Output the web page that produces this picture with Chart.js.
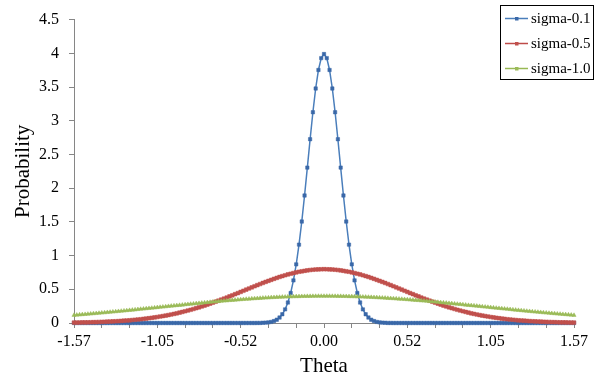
<!DOCTYPE html>
<html>
<head>
<meta charset="utf-8">
<script src="https://cdn.jsdelivr.net/npm/chart.js@4.4.1/dist/chart.umd.min.js"></script>
<style>
  body { margin: 0; background: #fff; }
  #wrap { width: 604px; height: 379px; }
</style>
</head>
<body>
<div id="wrap"><canvas id="myChart" width="604" height="379"></canvas></div>
<script>
'use strict';

// theta in degrees, one point per degree (-90 .. 90)
let thetaDeg = [
  -90, -89, -88, -87, -86, -85, -84, -83, -82, -81,
  -80, -79, -78, -77, -76, -75, -74, -73, -72, -71,
  -70, -69, -68, -67, -66, -65, -64, -63, -62, -61,
  -60, -59, -58, -57, -56, -55, -54, -53, -52, -51,
  -50, -49, -48, -47, -46, -45, -44, -43, -42, -41,
  -40, -39, -38, -37, -36, -35, -34, -33, -32, -31,
  -30, -29, -28, -27, -26, -25, -24, -23, -22, -21,
  -20, -19, -18, -17, -16, -15, -14, -13, -12, -11,
  -10, -9, -8, -7, -6, -5, -4, -3, -2, -1,
  0,
  1, 2, 3, 4, 5, 6, 7, 8, 9, 10,
  11, 12, 13, 14, 15, 16, 17, 18, 19, 20,
  21, 22, 23, 24, 25, 26, 27, 28, 29, 30,
  31, 32, 33, 34, 35, 36, 37, 38, 39, 40,
  41, 42, 43, 44, 45, 46, 47, 48, 49, 50,
  51, 52, 53, 54, 55, 56, 57, 58, 59, 60,
  61, 62, 63, 64, 65, 66, 67, 68, 69, 70,
  71, 72, 73, 74, 75, 76, 77, 78, 79, 80,
  81, 82, 83, 84, 85, 86, 87, 88, 89, 90
];

// shown under every 30th category
let tickLabels = ['-1.57', '-1.05', '-0.52', '0.00', '0.52', '1.05', '1.57'];

let seriesNames = ['sigma-0.1', 'sigma-0.5', 'sigma-1.0'];

let sigma01 = [
  0, 0, 0, 0, 0, 0, 0, 0, 0, 0, 0,
  0, 0, 0, 0, 0, 0, 0, 0, 0, 0, 0,
  0, 0, 0, 0, 0, 0, 0, 0, 0, 0, 0,
  0, 0, 0, 0, 0, 0, 0, 0, 0, 0, 0,
  0, 0, 0, 0, 0, 0, 0, 0, 0, 0, 0,
  0, 0, 0, 0, 0, 0, 0, 0, 0, 0, 0,
  0.001, 0.001, 0.003, 0.005, 0.009, 0.016, 0.029, 0.049, 0.081, 0.130,
  0.202, 0.304, 0.445, 0.632, 0.870, 1.162, 1.505, 1.891, 2.305, 2.726,
  3.126, 3.478, 3.753, 3.929,
  3.989,
  3.929, 3.753, 3.478, 3.126,
  2.726, 2.305, 1.891, 1.505, 1.162, 0.870, 0.632, 0.445, 0.304, 0.202,
  0.130, 0.081, 0.049, 0.029, 0.016, 0.009, 0.005, 0.003, 0.001, 0.001,
  0, 0, 0, 0, 0, 0, 0, 0, 0, 0, 0,
  0, 0, 0, 0, 0, 0, 0, 0, 0, 0, 0,
  0, 0, 0, 0, 0, 0, 0, 0, 0, 0, 0,
  0, 0, 0, 0, 0, 0, 0, 0, 0, 0, 0,
  0, 0, 0, 0, 0, 0, 0, 0, 0, 0, 0,
  0, 0, 0, 0, 0, 0, 0, 0, 0, 0, 0
];

let sigma05 = [
  0.006, 0.006, 0.007, 0.008, 0.009, 0.010, 0.011, 0.012, 0.013, 0.015,
  0.016, 0.018, 0.020, 0.022, 0.024, 0.026, 0.028, 0.031, 0.034, 0.037,
  0.040, 0.044, 0.048, 0.052, 0.056, 0.061, 0.066, 0.071, 0.077, 0.083,
  0.089, 0.096, 0.103, 0.110, 0.118, 0.126, 0.135, 0.144, 0.154, 0.164,
  0.174, 0.185, 0.196, 0.208, 0.220, 0.232, 0.245, 0.259, 0.273, 0.287,
  0.301, 0.316, 0.331, 0.347, 0.362, 0.378, 0.395, 0.411, 0.428, 0.444,
  0.461, 0.478, 0.495, 0.512, 0.529, 0.545, 0.562, 0.578, 0.594, 0.610,
  0.625, 0.640, 0.655, 0.669, 0.683, 0.696, 0.708, 0.720, 0.731, 0.741,
  0.751, 0.760, 0.767, 0.774, 0.781, 0.786, 0.790, 0.794, 0.796, 0.797,
  0.798,
  0.797, 0.796, 0.794, 0.790, 0.786, 0.781, 0.774, 0.767, 0.760, 0.751,
  0.741, 0.731, 0.720, 0.708, 0.696, 0.683, 0.669, 0.655, 0.640, 0.625,
  0.610, 0.594, 0.578, 0.562, 0.545, 0.529, 0.512, 0.495, 0.478, 0.461,
  0.444, 0.428, 0.411, 0.395, 0.378, 0.362, 0.347, 0.331, 0.316, 0.301,
  0.287, 0.273, 0.259, 0.245, 0.232, 0.220, 0.208, 0.196, 0.185, 0.174,
  0.164, 0.154, 0.144, 0.135, 0.126, 0.118, 0.110, 0.103, 0.096, 0.089,
  0.083, 0.077, 0.071, 0.066, 0.061, 0.056, 0.052, 0.048, 0.044, 0.040,
  0.037, 0.034, 0.031, 0.028, 0.026, 0.024, 0.022, 0.020, 0.018, 0.016,
  0.015, 0.013, 0.012, 0.011, 0.010, 0.009, 0.008, 0.007, 0.006, 0.006
];

let sigma10 = [
  0.116, 0.119, 0.123, 0.126, 0.129, 0.133, 0.136, 0.140, 0.143, 0.147,
  0.151, 0.154, 0.158, 0.162, 0.166, 0.169, 0.173, 0.177, 0.181, 0.185,
  0.189, 0.193, 0.197, 0.202, 0.206, 0.210, 0.214, 0.218, 0.222, 0.226,
  0.231, 0.235, 0.239, 0.243, 0.248, 0.252, 0.256, 0.260, 0.264, 0.268,
  0.273, 0.277, 0.281, 0.285, 0.289, 0.293, 0.297, 0.301, 0.305, 0.309,
  0.313, 0.317, 0.320, 0.324, 0.328, 0.331, 0.335, 0.338, 0.341, 0.345,
  0.348, 0.351, 0.354, 0.357, 0.360, 0.363, 0.365, 0.368, 0.371, 0.373,
  0.375, 0.378, 0.380, 0.382, 0.384, 0.386, 0.387, 0.389, 0.390, 0.392,
  0.393, 0.394, 0.395, 0.396, 0.397, 0.397, 0.398, 0.398, 0.399, 0.399,
  0.399,
  0.399, 0.399, 0.398, 0.398, 0.397, 0.397, 0.396, 0.395, 0.394, 0.393,
  0.392, 0.390, 0.389, 0.387, 0.386, 0.384, 0.382, 0.380, 0.378, 0.375,
  0.373, 0.371, 0.368, 0.365, 0.363, 0.360, 0.357, 0.354, 0.351, 0.348,
  0.345, 0.341, 0.338, 0.335, 0.331, 0.328, 0.324, 0.320, 0.317, 0.313,
  0.309, 0.305, 0.301, 0.297, 0.293, 0.289, 0.285, 0.281, 0.277, 0.273,
  0.268, 0.264, 0.260, 0.256, 0.252, 0.248, 0.243, 0.239, 0.235, 0.231,
  0.226, 0.222, 0.218, 0.214, 0.210, 0.206, 0.202, 0.197, 0.193, 0.189,
  0.185, 0.181, 0.177, 0.173, 0.169, 0.166, 0.162, 0.158, 0.154, 0.151,
  0.147, 0.143, 0.140, 0.136, 0.133, 0.129, 0.126, 0.123, 0.119, 0.116
];

const serif = '"Liberation Serif", "Times New Roman", serif';
const axisGrey = '#868686';
const markClip = { left: 5, right: 5, top: 5, bottom: 5 };

// legend drawn as a boxed list in the top right corner, like the original
const boxLegend = {
  id: 'boxLegend',
  afterDraw(chart) {
    let c = chart.ctx;
    c.save();
    c.fillStyle = '#fff';
    c.fillRect(500, 5, 93, 74);
    c.strokeStyle = '#000';
    c.lineWidth = 1;
    c.strokeRect(500.5, 5.5, 93, 74);
    chart.data.datasets.forEach(function (ds, i) {
      let y = 18.5 + i * 25;
      c.strokeStyle = ds.borderColor;
      c.lineWidth = 1.5;
      c.beginPath();
      c.moveTo(505, y);
      c.lineTo(528, y);
      c.stroke();
      c.fillStyle = ds.pointBackgroundColor;
      c.fillRect(515, y - 1.5, 3.5, 3.5);
      c.fillStyle = '#000';
      c.font = '15px ' + serif;
      c.textBaseline = 'middle';
      c.textAlign = 'left';
      c.fillText(ds.label, 531, y + 1);
    });
    c.restore();
  }
};

const ctx = document.getElementById('myChart');

new Chart(ctx, {
  type: 'line',
  data: {
    labels: thetaDeg,
    datasets: [{
      label: seriesNames[0],
      data: sigma01,
      borderColor: '#4A7EBB',
      borderWidth: 1.5,
      pointStyle: 'rect',
      pointRadius: 2.4,
      pointBackgroundColor: '#3A68A8',
      pointBorderColor: '#3A68A8',
      pointBorderWidth: 0.5,
      clip: markClip,
      order: 3
    }, {
      label: seriesNames[1],
      data: sigma05,
      borderColor: '#BE4B48',
      borderWidth: 1.5,
      pointStyle: 'rect',
      pointRadius: 2.6,
      pointBackgroundColor: '#C0504D',
      pointBorderColor: '#C0504D',
      pointBorderWidth: 0.5,
      clip: markClip,
      order: 2
    }, {
      label: seriesNames[2],
      data: sigma10,
      borderColor: '#98B954',
      borderWidth: 1.5,
      pointStyle: 'triangle',
      pointRadius: 2.4,
      pointBackgroundColor: '#9BBB59',
      pointBorderColor: '#9BBB59',
      pointBorderWidth: 0.5,
      clip: markClip,
      order: 1
    }]
  },
  options: {
    responsive: false,
    animation: false,
    layout: { padding: { top: 17, right: 30, left: 0, bottom: 0 } },
    plugins: {
      legend: { display: false },
      tooltip: { enabled: false }
    },
    scales: {
      x: {
        type: 'category',
        offset: false,
        afterFit: function (scale) { scale.height = 56; },
        grid: {
          drawOnChartArea: false,
          drawTicks: true,
          tickLength: 5,
          color: function (c) { return c.index % 10 === 0 ? axisGrey : 'rgba(0,0,0,0)'; }
        },
        border: { display: true, color: axisGrey, width: 1 },
        ticks: {
          autoSkip: false,
          maxRotation: 0,
          minRotation: 0,
          padding: 4,
          color: '#000',
          font: { family: serif, size: 16 },
          callback: function (val, i) {
            return i % 30 === 0 ? tickLabels[i / 30] : '';
          }
        },
        title: {
          display: true,
          text: 'Theta',
          color: '#000',
          font: { family: serif, size: 21 },
          padding: { top: 0, bottom: 0 }
        }
      },
      y: {
        min: 0,
        max: 4.5,
        afterFit: function (scale) { scale.width = 74; },
        grid: {
          drawOnChartArea: false,
          drawTicks: true,
          tickLength: 5,
          color: axisGrey
        },
        border: { display: true, color: axisGrey, width: 1 },
        ticks: {
          stepSize: 0.5,
          padding: 10,
          color: '#000',
          font: { family: serif, size: 16 },
          callback: function (val) { return String(val); }
        },
        title: {
          display: true,
          text: 'Probability',
          color: '#000',
          font: { family: serif, size: 21 },
          padding: { top: 11, bottom: 0 }
        }
      }
    }
  },
  plugins: [boxLegend]
});
</script>
</body>
</html>
